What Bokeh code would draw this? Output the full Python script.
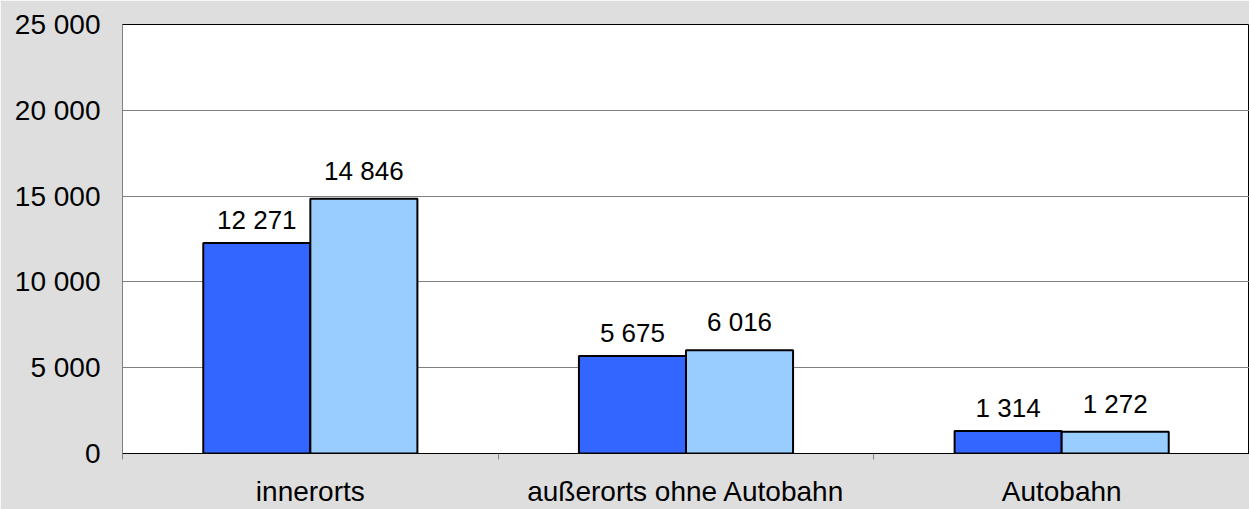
from bokeh.plotting import figure
from bokeh.models import (ColumnDataSource, Range1d, FixedTicker, LabelSet)
from bokeh.core.properties import value
from bokeh.transform import dodge
from bokeh.embed import file_html
from bokeh.resources import INLINE

# ---- data ----
categories = ["innerorts", "außerorts ohne Autobahn", "Autobahn"]
series_a = [12271, 5675, 1314]
series_b = [14846, 6016, 1272]
y_ticks = [0, 5000, 10000, 15000, 20000, 25000]

def fmt(v):
    return f"{v:,}".replace(",", " ")

centers = [i + 0.5 for i in range(len(categories))]
bounds = [i for i in range(len(categories) + 1)]

src = ColumnDataSource(dict(
    x=centers,
    a=series_a,
    b=series_b,
    la=[fmt(v) for v in series_a],
    lb=[fmt(v) for v in series_b],
))

FONT = "Liberation Sans"

p = figure(width=1249, height=509, output_backend="svg", toolbar_location=None,
           x_range=Range1d(0, len(categories)), y_range=Range1d(0, y_ticks[-1]),
           min_border_left=122, min_border_right=0, min_border_top=24,
           min_border_bottom=56)

p.background_fill_color = "white"
p.border_fill_color = "#dedede"
p.outline_line_color = "black"
p.outline_line_width = 1

bw = 0.285
p.vbar(x=dodge("x", -bw / 2, range=p.x_range), top="a", width=bw, source=src,
       fill_color="#3366FF", line_color="black", line_width=2)
p.vbar(x=dodge("x", bw / 2, range=p.x_range), top="b", width=bw, source=src,
       fill_color="#99CCFF", line_color="black", line_width=2)

la = LabelSet(x=dodge("x", -bw / 2, range=p.x_range), y="a", text="la", source=src,
              text_align="center", text_baseline="alphabetic", y_offset=14,
              text_font=value(FONT), text_font_size=value("26px"),
              text_color=value("black"))
lb = LabelSet(x=dodge("x", bw / 2, range=p.x_range), y="b", text="lb", source=src,
              text_align="center", text_baseline="alphabetic", y_offset=19,
              text_font=value(FONT), text_font_size=value("26px"),
              text_color=value("black"))
p.add_layout(la)
p.add_layout(lb)

# y axis
p.yaxis.ticker = FixedTicker(ticks=y_ticks)
p.yaxis.major_label_overrides = {t: fmt(t) for t in y_ticks}
p.yaxis.axis_line_color = "#808080"
p.yaxis.axis_line_width = 1
p.yaxis.major_tick_in = 0
p.yaxis.major_tick_out = 0
p.yaxis.minor_tick_line_color = None
p.yaxis.major_label_standoff = 22
p.yaxis.major_label_text_font = FONT
p.yaxis.major_label_text_font_size = "28px"
p.yaxis.major_label_text_color = "black"

# x axis
p.xaxis.ticker = FixedTicker(ticks=centers, minor_ticks=bounds)
p.xaxis.major_label_overrides = {c: name for c, name in zip(centers, categories)}
p.xaxis.axis_line_color = "black"
p.xaxis.axis_line_width = 1
p.xaxis.major_tick_in = 0
p.xaxis.major_tick_out = 0
p.xaxis.minor_tick_in = 0
p.xaxis.minor_tick_out = 6
p.xaxis.minor_tick_line_color = "#808080"
p.xaxis.major_label_standoff = 16
p.xaxis.major_label_text_font = FONT
p.xaxis.major_label_text_font_size = "28px"
p.xaxis.major_label_text_color = "black"

p.xgrid.grid_line_color = None
p.ygrid.grid_line_color = "#808080"
p.ygrid.grid_line_width = 1

open("out.html", "w").write(file_html(p, INLINE))
